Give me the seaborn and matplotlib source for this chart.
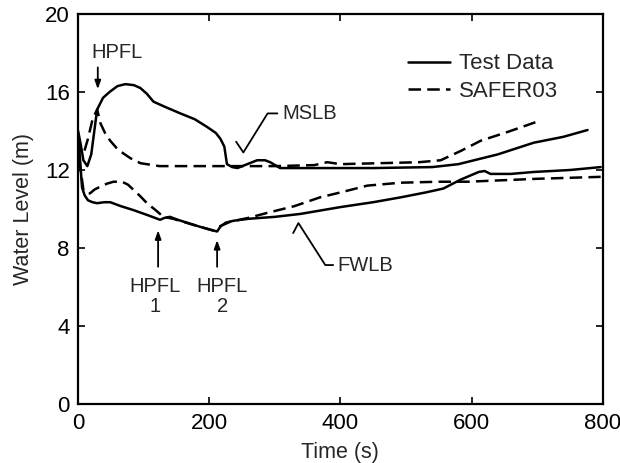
import matplotlib
matplotlib.use("Agg")
import matplotlib.pyplot as plt
import pandas as pd
import seaborn as sns

# MSLB case
mslb_test_t = [0, 4, 8, 14, 20, 29, 38, 48, 60, 72, 85, 95, 105, 115, 135, 156, 178, 197, 210, 217,
               223, 227, 235, 243, 258, 273, 285, 293, 308, 350, 450, 540, 580, 640, 695, 740, 777]
mslb_test_y = [14.0, 13.3, 12.5, 12.2, 12.8, 15.1, 15.7, 16.0, 16.3, 16.4, 16.35, 16.2, 15.9, 15.5, 15.2,
               14.9, 14.6, 14.2, 13.9, 13.6, 13.2, 12.3, 12.15, 12.1, 12.3, 12.5, 12.5, 12.4, 12.1, 12.1,
               12.1, 12.15, 12.3, 12.8, 13.4, 13.7, 14.05]
mslb_safer_t = [0, 4, 8, 15, 22, 29, 34, 41, 49, 58, 69, 80, 95, 124, 200, 300, 360, 380, 400, 460,
                520, 553, 585, 614, 655, 702]
mslb_safer_y = [13.5, 13.0, 12.8, 13.6, 14.6, 15.1, 14.4, 13.9, 13.5, 13.15, 12.85, 12.6, 12.35, 12.2,
                12.2, 12.2, 12.25, 12.4, 12.3, 12.35, 12.4, 12.5, 13.0, 13.5, 13.95, 14.5]

# FWLB case
fwlb_test_t = [0, 3, 6, 10, 15, 22, 29, 40, 49, 65, 84, 105, 125, 132, 140, 152, 166, 185, 206, 212,
               217, 225, 237, 260, 300, 339, 400, 450, 492, 530, 557, 583, 611, 620, 629, 660, 695, 750, 797]
fwlb_test_y = [13.8, 12.5, 11.1, 10.7, 10.45, 10.35, 10.3, 10.35, 10.35, 10.15, 9.95, 9.7, 9.45, 9.55,
               9.6, 9.45, 9.3, 9.1, 8.9, 8.85, 9.1, 9.3, 9.4, 9.5, 9.6, 9.75, 10.1, 10.35, 10.6, 10.85,
               11.05, 11.5, 11.9, 11.95, 11.8, 11.8, 11.9, 12.0, 12.15]
fwlb_safer_t = [0, 3, 8, 13, 18, 25, 34, 44, 54, 67, 76, 84, 95, 105, 118, 130, 145, 160, 185, 206,
                215, 232, 260, 288, 330, 369, 400, 441, 492, 550, 594, 700, 797]
fwlb_safer_y = [13.5, 12.2, 11.0, 10.8, 10.8, 11.0, 11.15, 11.3, 11.4, 11.4, 11.25, 11.0, 10.65, 10.3,
                9.95, 9.6, 9.5, 9.35, 9.1, 8.9, 9.1, 9.35, 9.55, 9.8, 10.15, 10.6, 10.85, 11.2, 11.35,
                11.4, 11.4, 11.55, 11.65]

x_ticks = [0, 200, 400, 600, 800]
y_ticks = [0, 4, 8, 12, 16, 20]

# annotation geometry (data coords)
mslb_leader_t = [304, 289, 252, 241]
mslb_leader_y = [14.9, 14.9, 12.9, 13.45]
fwlb_leader_t = [328, 336, 377, 389]
fwlb_leader_y = [8.77, 9.28, 7.13, 7.13]


def frame(case, source, t, y):
    return pd.DataFrame({"case": case, "source": source, "t": t, "y": y})


df = pd.concat([
    frame("MSLB", "Test Data", mslb_test_t, mslb_test_y),
    frame("MSLB", "SAFER03", mslb_safer_t, mslb_safer_y),
    frame("FWLB", "Test Data", fwlb_test_t, fwlb_test_y),
    frame("FWLB", "SAFER03", fwlb_safer_t, fwlb_safer_y),
], ignore_index=True)
df["run"] = df["case"] + "_" + df["source"]

sns.set_style("ticks")
plt.rcParams["font.family"] = ["Liberation Sans", "DejaVu Sans"]

fig, ax = plt.subplots(figsize=(6.2, 4.63), dpi=100)
fig.subplots_adjust(left=0.126, right=0.972, top=0.970, bottom=0.127)

sns.lineplot(data=df, x="t", y="y", style="source", units="run", estimator=None, sort=False,
             color="black", linewidth=1.8,
             dashes={"Test Data": "", "SAFER03": (5, 2.5)}, ax=ax)

ax.set_xlim(0, 800)
ax.set_ylim(0, 20)
ax.set_xticks(x_ticks)
ax.set_yticks(y_ticks)
ax.tick_params(direction="in", top=True, right=True, length=5, width=1.2,
               labelsize=16, pad=6, colors="black")
for s in ax.spines.values():
    s.set_linewidth(1.6)
    s.set_color("black")
ax.set_xlabel("Time (s)", fontsize=15.5, labelpad=6)
ax.set_ylabel("Water Level (m)", fontsize=15.5, labelpad=8)

handles, labels = ax.get_legend_handles_labels()
ax.legend(handles, labels, loc="upper left", bbox_to_anchor=(0.59, 0.95), frameon=False,
          fontsize=16, handlelength=1.9, labelspacing=0.3, handletextpad=0.4)

arrow = dict(arrowstyle="-|>,head_length=0.5,head_width=0.18", color="black", lw=1.3)
ax.annotate("", xy=(30, 16.0), xytext=(30, 17.4), arrowprops=arrow)
ax.text(59, 18.0, "HPFL", fontsize=14.5, ha="center", va="center")
ax.annotate("", xy=(122, 9.05), xytext=(122, 6.9), arrowprops=arrow)
ax.text(117, 6.5, "HPFL\n1", fontsize=14.5, ha="center", va="top", multialignment="center",
        linespacing=1.05)
ax.annotate("", xy=(212, 8.55), xytext=(212, 6.9), arrowprops=arrow)
ax.text(220, 6.5, "HPFL\n2", fontsize=14.5, ha="center", va="top", multialignment="center",
        linespacing=1.05)

ax.plot(mslb_leader_t, mslb_leader_y, color="black", lw=1.3)
ax.text(311, 14.9, "MSLB", fontsize=14.5, ha="left", va="center")
ax.plot(fwlb_leader_t, fwlb_leader_y, color="black", lw=1.3)
ax.text(395, 7.13, "FWLB", fontsize=14.5, ha="left", va="center")

fig.savefig("out.png", dpi=100)
